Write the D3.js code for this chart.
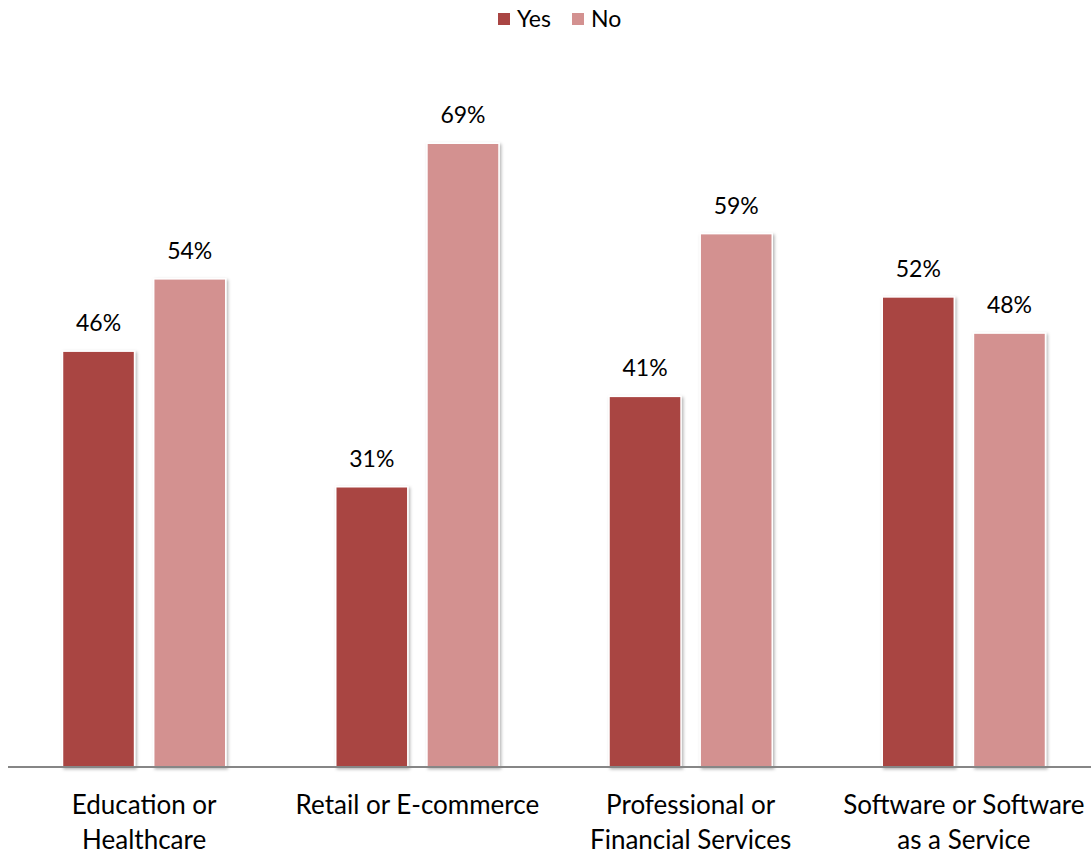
<!DOCTYPE html>
<html>
<head>
<meta charset="utf-8">
<script src="https://cdn.jsdelivr.net/npm/d3@7"></script>
<style>
  body { margin: 0; background: #fff; }
  text { font-family: Lato, "Open Sans", sans-serif; fill: #000; }
</style>
</head>
<body>
<svg id="chart" width="1091" height="855"></svg>
<script>
var WIDTH = 1091;
var HEIGHT = 855;
var AXIS_Y = 767;

var categories = [
  ['Education or', 'Healthcare'],
  ['Retail or E-commerce'],
  ['Professional or', 'Financial Services'],
  ['Software or Software', 'as a Service']
];
var seriesNames = ['Yes', 'No'];
var yesValues = [46, 31, 41, 52];
var noValues = [54, 69, 59, 48];
var colors = ['#a94543', '#d39190'];

var svg = d3.select('#chart');

var defs = svg.append('defs');
var shadow = defs.append('filter')
  .attr('id', 'shadow')
  .attr('x', '-20%').attr('y', '-20%')
  .attr('width', '140%').attr('height', '140%');
shadow.append('feDropShadow')
  .attr('dx', 1.5).attr('dy', 1.5)
  .attr('stdDeviation', 1.5)
  .attr('flood-color', '#000')
  .attr('flood-opacity', 0.3);

var x0 = d3.scaleBand()
  .domain(d3.range(categories.length))
  .range([7.5, 1100.5])
  .paddingInner(0)
  .paddingOuter(0);

var x1 = d3.scaleBand()
  .domain(seriesNames)
  .range([55, x0.bandwidth() - 55])
  .paddingInner(0.21);

var y = d3.scaleLinear().domain([0, 80]).range([AXIS_Y, AXIS_Y - 80 * 9.04]);

var rows = categories.map(function (c, i) {
  return { index: i, label: c, values: [yesValues[i], noValues[i]] };
});

var groups = svg.append('g').selectAll('g.group')
  .data(rows)
  .join('g')
  .attr('class', 'group')
  .attr('transform', function (d) { return 'translate(' + x0(d.index) + ',0)'; });

groups.selectAll('rect')
  .data(function (d) { return d.values.map(function (v, j) { return { name: seriesNames[j], value: v, color: colors[j] }; }); })
  .join('rect')
  .attr('x', function (d) { return x1(d.name); })
  .attr('y', function (d) { return y(d.value); })
  .attr('width', x1.bandwidth())
  .attr('height', function (d) { return y(0) - y(d.value); })
  .attr('fill', function (d) { return d.color; })
  .attr('stroke', '#fff')
  .attr('stroke-width', 1.5)
  .attr('filter', 'url(#shadow)');

groups.selectAll('text.value')
  .data(function (d) { return d.values.map(function (v, j) { return { name: seriesNames[j], value: v }; }); })
  .join('text')
  .attr('class', 'value')
  .attr('x', function (d) { return x1(d.name) + x1.bandwidth() / 2; })
  .attr('y', function (d) { return y(d.value) - 20; })
  .attr('text-anchor', 'middle')
  .attr('font-size', 23)
  .text(function (d) { return d.value + '%'; });

// x axis line
var xAxis = d3.axisBottom(x0).tickSize(0).tickFormat('');
var axisG = svg.append('g')
  .attr('transform', 'translate(0,' + AXIS_Y + ')')
  .call(xAxis);
axisG.select('.domain')
  .attr('d', 'M8,0H' + WIDTH)
  .attr('stroke', '#868686')
  .attr('stroke-width', 2);

groups.selectAll('text.cat')
  .data(function (d) { return [d]; })
  .join('text')
  .attr('class', 'cat')
  .attr('text-anchor', 'middle')
  .attr('font-size', 26)
  .selectAll('tspan')
  .data(function (d) { return d.label; })
  .join('tspan')
  .attr('x', x0.bandwidth() / 2)
  .attr('y', function (d, i) { return 814 + i * 35; })
  .text(function (d) { return d; });

// legend
var legend = svg.append('g').attr('transform', 'translate(498,13)');
var legendX = [0, 74];
var items = legend.selectAll('g')
  .data(seriesNames)
  .join('g')
  .attr('transform', function (d, i) { return 'translate(' + legendX[i] + ',0)'; });
items.append('rect')
  .attr('width', 12).attr('height', 12)
  .attr('fill', function (d, i) { return colors[i]; });
items.append('text')
  .attr('x', 19).attr('y', 14)
  .attr('font-size', 23)
  .text(function (d) { return d; });
</script>
</body>
</html>
